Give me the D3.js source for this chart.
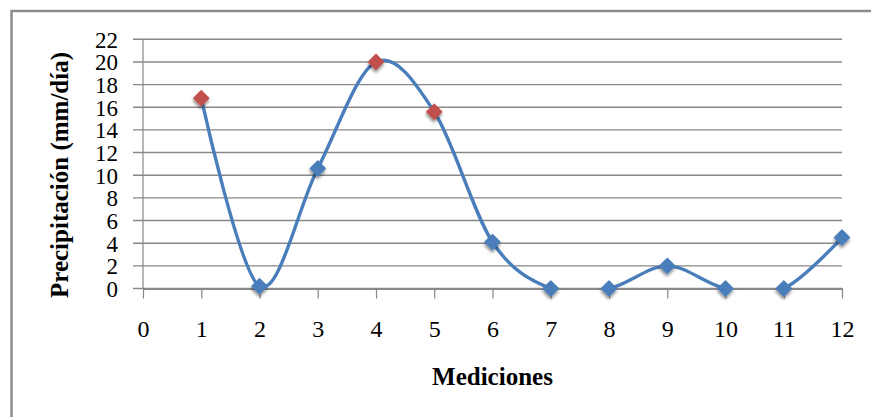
<!DOCTYPE html>
<html>
<head>
<meta charset="utf-8">
<script src="https://cdn.jsdelivr.net/npm/d3@7/dist/d3.min.js"></script>
<style>
  html, body { margin: 0; padding: 0; background: #fff; }
  svg { display: block; }
</style>
</head>
<body>
<svg id="chart" width="871" height="417"></svg>
<script>
// ---- data ----
const mediciones = [1, 2, 3, 4, 5, 6, 7, 8, 9, 10, 11, 12];
const precipitacion = [16.8, 0.2, 10.6, 20.0, 15.6, 4.1, 0.0, 0.0, 2.0, 0.0, 0.0, 4.5];
const destacados = [1, 4, 5];   // mediciones shown with red markers
const xTicks = [0, 1, 2, 3, 4, 5, 6, 7, 8, 9, 10, 11, 12];
const yTicks = [0, 2, 4, 6, 8, 10, 12, 14, 16, 18, 20, 22];
const xTitle = "Mediciones";
const yTitle = "Precipitación (mm/día)";

(function () {
const FONT = '"Liberation Serif", "Times New Roman", Times, "DejaVu Serif", serif';
const svg = d3.select("#chart");
const W = 871, H = 417;
const pLeft = 143, pRight = 842, pTop = 39.3, pBottom = 288.5;

const x = d3.scaleLinear().domain([0, 12]).range([pLeft, pRight]);
const y = d3.scaleLinear().domain([0, 22]).range([pBottom, pTop]);

// outer border (only top and left visible in the crop)
svg.append("path")
  .attr("d", `M11.5,${H} L11.5,11 L${W},11`)
  .attr("fill", "none").attr("stroke", "#8c8c8c").attr("stroke-width", 2.5);

const defs = svg.append("defs");
const f = defs.append("filter").attr("id", "shadow")
  .attr("x", "-50%").attr("y", "-50%").attr("width", "200%").attr("height", "200%");
f.append("feDropShadow").attr("dx", 1.5).attr("dy", 2).attr("stdDeviation", 1.8)
  .attr("flood-color", "#000").attr("flood-opacity", 0.45);
defs.append("clipPath").attr("id", "plotclip")
  .append("rect").attr("x", pLeft).attr("y", pTop - 5)
  .attr("width", pRight - pLeft + 5).attr("height", pBottom - pTop + 5);

// horizontal gridlines (extend left as tick marks)
svg.append("g").selectAll("line").data(yTicks).join("line")
  .attr("x1", pLeft - 10).attr("x2", pRight)
  .attr("y1", d => y(d)).attr("y2", d => y(d))
  .attr("stroke", "#888").attr("stroke-width", 1.4);

// y axis line
svg.append("line")
  .attr("x1", pLeft).attr("x2", pLeft).attr("y1", y(22)).attr("y2", y(0))
  .attr("stroke", "#888").attr("stroke-width", 1.2);

// x axis line + ticks
const xAxis = d3.axisBottom(x).tickValues(xTicks).tickSize(10).tickSizeOuter(0).tickFormat(d3.format("d"));
const gx = svg.append("g").attr("transform", `translate(0,${y(0)})`).call(xAxis)
  .attr("font-family", FONT).attr("font-size", 24);
gx.select(".domain").attr("stroke", "#888").attr("stroke-width", 2);
gx.selectAll(".tick line").attr("stroke", "#888").attr("stroke-width", 1.2);
gx.selectAll(".tick text")
  .attr("y", 0).attr("dy", 0)
  .attr("transform", "translate(0,48)")
  .attr("fill", "#000");

// y tick labels
const yAxis = d3.axisLeft(y).tickValues(yTicks).tickSize(0).tickFormat(d3.format("d"));
const gy = svg.append("g").attr("transform", `translate(${pLeft - 25},0)`).call(yAxis)
  .attr("font-family", FONT).attr("font-size", 23);
gy.select(".domain").remove();
gy.selectAll(".tick text")
  .attr("x", 0).attr("dy", "0.34em")
  .attr("fill", "#000");

// smoothed line (clipped to the plot area, as in the original)
const line = d3.line()
  .x((d, i) => x(mediciones[i]))
  .y(d => y(d))
  .curve(d3.curveCatmullRom.alpha(0));
svg.append("path")
  .datum(precipitacion)
  .attr("d", line)
  .attr("clip-path", "url(#plotclip)")
  .attr("fill", "none").attr("stroke", "#4a7ebb").attr("stroke-width", 3.4)
  .attr("stroke-linejoin", "round");

// markers (diamonds)
const diamond = d3.symbol().type(d3.symbolSquare).size(110);
svg.append("g").selectAll("path").data(mediciones).join("path")
  .attr("d", diamond)
  .attr("transform", (d, i) => `translate(${x(d)},${y(precipitacion[i])}) rotate(45)`)
  .attr("fill", d => destacados.includes(d) ? "#c0504d" : "#4a7ebb")
  .attr("stroke", d => destacados.includes(d) ? "#c0504d" : "#4a7ebb")
  .attr("stroke-width", 1.5).attr("stroke-linejoin", "round")
  .attr("filter", "url(#shadow)");

// axis titles
svg.append("text")
  .attr("x", (pLeft + pRight) / 2).attr("y", 385)
  .attr("text-anchor", "middle")
  .attr("font-family", FONT).attr("font-size", 25).attr("font-weight", "bold")
  .text(xTitle);

svg.append("text")
  .attr("transform", "translate(68,175) rotate(-90)")
  .attr("text-anchor", "middle")
  .attr("font-family", FONT).attr("font-size", 25).attr("font-weight", "bold")
  .text(yTitle);
})();
</script>
</body>
</html>
